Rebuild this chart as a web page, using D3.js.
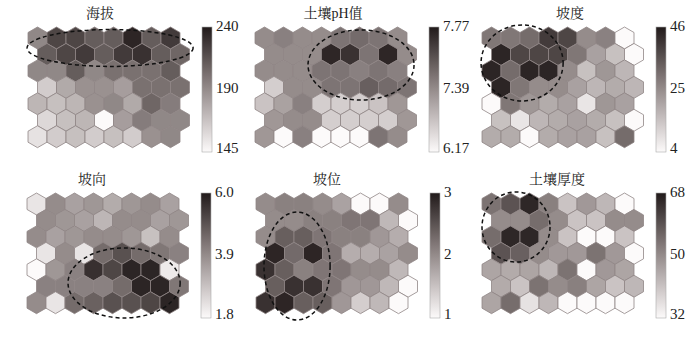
<!DOCTYPE html>
<html>
<head>
<meta charset="utf-8">
<script src="https://cdn.jsdelivr.net/npm/d3@7"></script>
<style>
  body { margin: 0; background: #fff; }
  svg { display: block; }
</style>
</head>
<body>
<svg id="chart" width="700" height="349"></svg>
<script>
// SOM component planes: 7 rows x 8 columns, row 0 at top

const titles = ["海拔", "土壤pH值", "坡度", "坡向", "坡位", "土壤厚度"];

// colorbar ticks (bottom, middle, top)
const ticks = [
  [145, 190, 240],
  [6.17, 7.39, 7.77],
  [4, 25, 46],
  [1.8, 3.9, 6.0],
  [1, 2, 3],
  [32, 50, 68]
];
const tickLabels = [
  ["145", "190", "240"],
  ["6.17", "7.39", "7.77"],
  ["4", "25", "46"],
  ["1.8", "3.9", "6.0"],
  ["1", "2", "3"],
  ["32", "50", "68"]
];

const elevation = [
  [192, 221, 221, 211, 211, 235, 211, 226],
  [211, 221, 226, 211, 226, 230, 211, 207],
  [192, 192, 211, 192, 202, 202, 202, 211],
  [164, 178, 188, 188, 183, 202, 202, 202],
  [173, 169, 173, 188, 192, 178, 207, 197],
  [159, 169, 173, 145, 183, 197, 192, 192],
  [155, 164, 169, 164, 169, 164, 188, 192]
];
const soilPH = [
  [7.39, 7.43, 7.39, 7.39, 7.47, 7.50, 7.47, 7.39],
  [7.39, 7.39, 7.39, 7.73, 7.69, 7.47, 7.73, 7.39],
  [7.39, 7.39, 7.39, 7.47, 7.47, 7.43, 7.47, 7.43],
  [6.66, 7.39, 7.39, 7.47, 7.47, 7.54, 7.50, 7.47],
  [6.78, 7.15, 7.43, 6.66, 6.66, 6.66, 6.78, 7.27],
  [7.27, 7.39, 7.39, 6.66, 6.66, 6.66, 6.66, 7.27],
  [7.27, 6.17, 7.43, 6.17, 6.17, 6.17, 7.47, 7.39]
];
const slope = [
  [29, 29, 31, 40, 38, 25, 27, 4],
  [44, 38, 38, 38, 29, 21, 15, 4],
  [44, 31, 44, 44, 25, 15, 23, 17],
  [44, 29, 25, 25, 21, 17, 19, 17],
  [4, 29, 23, 19, 21, 8, 23, 21],
  [15, 8, 17, 19, 21, 19, 15, 4],
  [19, 19, 4, 19, 21, 21, 15, 31]
];
const aspect = [
  [2.2, 3.9, 3.5, 3.7, 3.3, 3.7, 3.9, 3.5],
  [3.9, 3.7, 3.5, 3.1, 3.9, 3.9, 3.5, 3.7],
  [3.9, 3.5, 3.7, 3.9, 3.9, 3.7, 2.9, 3.9],
  [2.2, 3.9, 2.2, 4.5, 5.0, 4.5, 4.3, 4.1],
  [1.8, 3.7, 4.1, 5.6, 5.2, 5.8, 5.8, 2.1],
  [4.1, 4.1, 4.1, 4.1, 4.5, 5.8, 5.8, 4.3],
  [3.9, 2.2, 4.5, 4.7, 5.0, 5.0, 5.2, 5.8]
];
const slopePosition = [
  [2.0, 2.1, 2.1, 2.0, 1.8, 1.0, 1.0, 2.0],
  [2.0, 2.0, 2.1, 2.1, 2.2, 2.2, 1.6, 1.0],
  [2.0, 2.4, 2.4, 2.2, 2.1, 2.1, 1.9, 1.7],
  [2.9, 2.3, 2.9, 2.2, 1.7, 1.7, 1.8, 2.0],
  [2.8, 2.4, 2.1, 2.2, 2.2, 2.0, 2.0, 1.6],
  [2.4, 2.8, 2.8, 2.2, 1.9, 1.9, 1.6, 1.0],
  [2.8, 2.9, 2.4, 2.4, 1.9, 1.4, 1.6, 1.0]
];
const soilDepth = [
  [54, 59, 66, 52, 41, 48, 43, 32],
  [50, 50, 55, 50, 41, 41, 50, 50],
  [55, 66, 66, 50, 41, 32, 32, 41],
  [59, 57, 50, 48, 48, 54, 48, 32],
  [46, 45, 46, 43, 54, 32, 48, 46],
  [45, 41, 54, 50, 52, 46, 41, 43],
  [46, 55, 36, 43, 32, 32, 32, 32]
];
const planes = [elevation, soilPH, slope, aspect, slopePosition, soilDepth];

// dashed ellipses in grid units: [col, row, rx (cols), ry (rows)]
const ellipses = [
  [3.82, 0.61, 4.37, 1.12],
  [5.08, 1.64, 2.79, 2.13],
  [1.61, 1.52, 2.16, 2.31],
  [4.61, 4.80, 2.95, 2.13],
  [1.66, 3.77, 1.74, 3.28],
  [1.29, 1.40, 1.79, 2.13]
];

// layout
const panelLeft = [28, 255, 482, 27, 256, 482];
const panelTop = [27, 27, 27, 193, 193, 193];
const titleDx = [72, 78, 88, 65, 71, 75];
const hexR = 10.97;
const hexW = Math.sqrt(3) * hexR;

const shade = d3.interpolateRgbBasis(["#fcfafa", "#988d8c", "#211a1a"]);

const svg = d3.select("#chart");
const defs = svg.append("defs");

const hexPath = d3.line()(d3.range(6).map(i => {
  const a = Math.PI / 180 * (60 * i - 90);
  return [hexR * Math.cos(a), hexR * Math.sin(a)];
})) + "Z";

planes.forEach((grid, p) => {
  const left = panelLeft[p], top = panelTop[p];
  const g = svg.append("g");

  const x = d3.scaleLinear().domain([0, 1]).range([left + hexW / 2, left + hexW * 1.5]);
  const y = d3.scaleLinear().domain([0, 1]).range([top + hexR, top + hexR * 2.5]);
  const t = d3.scaleLinear().domain(ticks[p]).range([0, 0.5, 1]).clamp(true);

  const cells = [];
  grid.forEach((row, r) => row.forEach((v, c) => cells.push({ r, c, v })));

  g.selectAll("path.hex")
    .data(cells)
    .join("path")
    .attr("class", "hex")
    .attr("d", hexPath)
    .attr("transform", d => `translate(${x(d.c + (d.r % 2) * 0.5)},${y(d.r)})`)
    .attr("fill", d => shade(t(d.v)))
    .attr("stroke", "#8f8585")
    .attr("stroke-width", 0.8);

  // dashed ellipse
  const e = ellipses[p];
  g.append("ellipse")
    .attr("cx", x(e[0]))
    .attr("cy", y(e[1]))
    .attr("rx", x(e[2]) - x(0))
    .attr("ry", y(e[3]) - y(0))
    .attr("fill", "none")
    .attr("stroke", "#111")
    .attr("stroke-width", 1.5)
    .attr("stroke-dasharray", "4,3");

  // title
  g.append("text")
    .attr("x", left + titleDx[p])
    .attr("y", top - 9)
    .attr("text-anchor", "middle")
    .attr("font-family", "'Liberation Serif', 'Noto Serif CJK SC', 'Noto Sans CJK SC', serif")
    .attr("font-size", 14)
    .attr("fill", "#222")
    .text(titles[p]);

  // colorbar
  const barX = left + 174, barW = 10, barTop = top, barBottom = top + 125;
  const gradId = "grad" + p;
  const grad = defs.append("linearGradient")
    .attr("id", gradId)
    .attr("x1", 0).attr("y1", 1).attr("x2", 0).attr("y2", 0);
  d3.range(0, 1.0001, 0.1).forEach(s => {
    grad.append("stop").attr("offset", s).attr("stop-color", shade(s));
  });
  g.append("rect")
    .attr("x", barX).attr("y", barTop)
    .attr("width", barW).attr("height", barBottom - barTop)
    .attr("fill", `url(#${gradId})`)
    .attr("stroke", "#aaa")
    .attr("stroke-width", 0.6);

  const yBar = d3.scaleLinear().domain(ticks[p])
    .range([barBottom - 4, (barTop + barBottom) / 2 - 2, barTop - 1]);
  g.selectAll("text.tick")
    .data(ticks[p])
    .join("text")
    .attr("class", "tick")
    .attr("x", barX + barW + 4)
    .attr("y", d => yBar(d))
    .attr("dy", "0.35em")
    .attr("font-family", "'Liberation Serif', 'Times New Roman', serif")
    .attr("font-size", 15)
    .attr("fill", "#222")
    .text((d, i) => tickLabels[p][i]);
});
</script>
</body>
</html>
